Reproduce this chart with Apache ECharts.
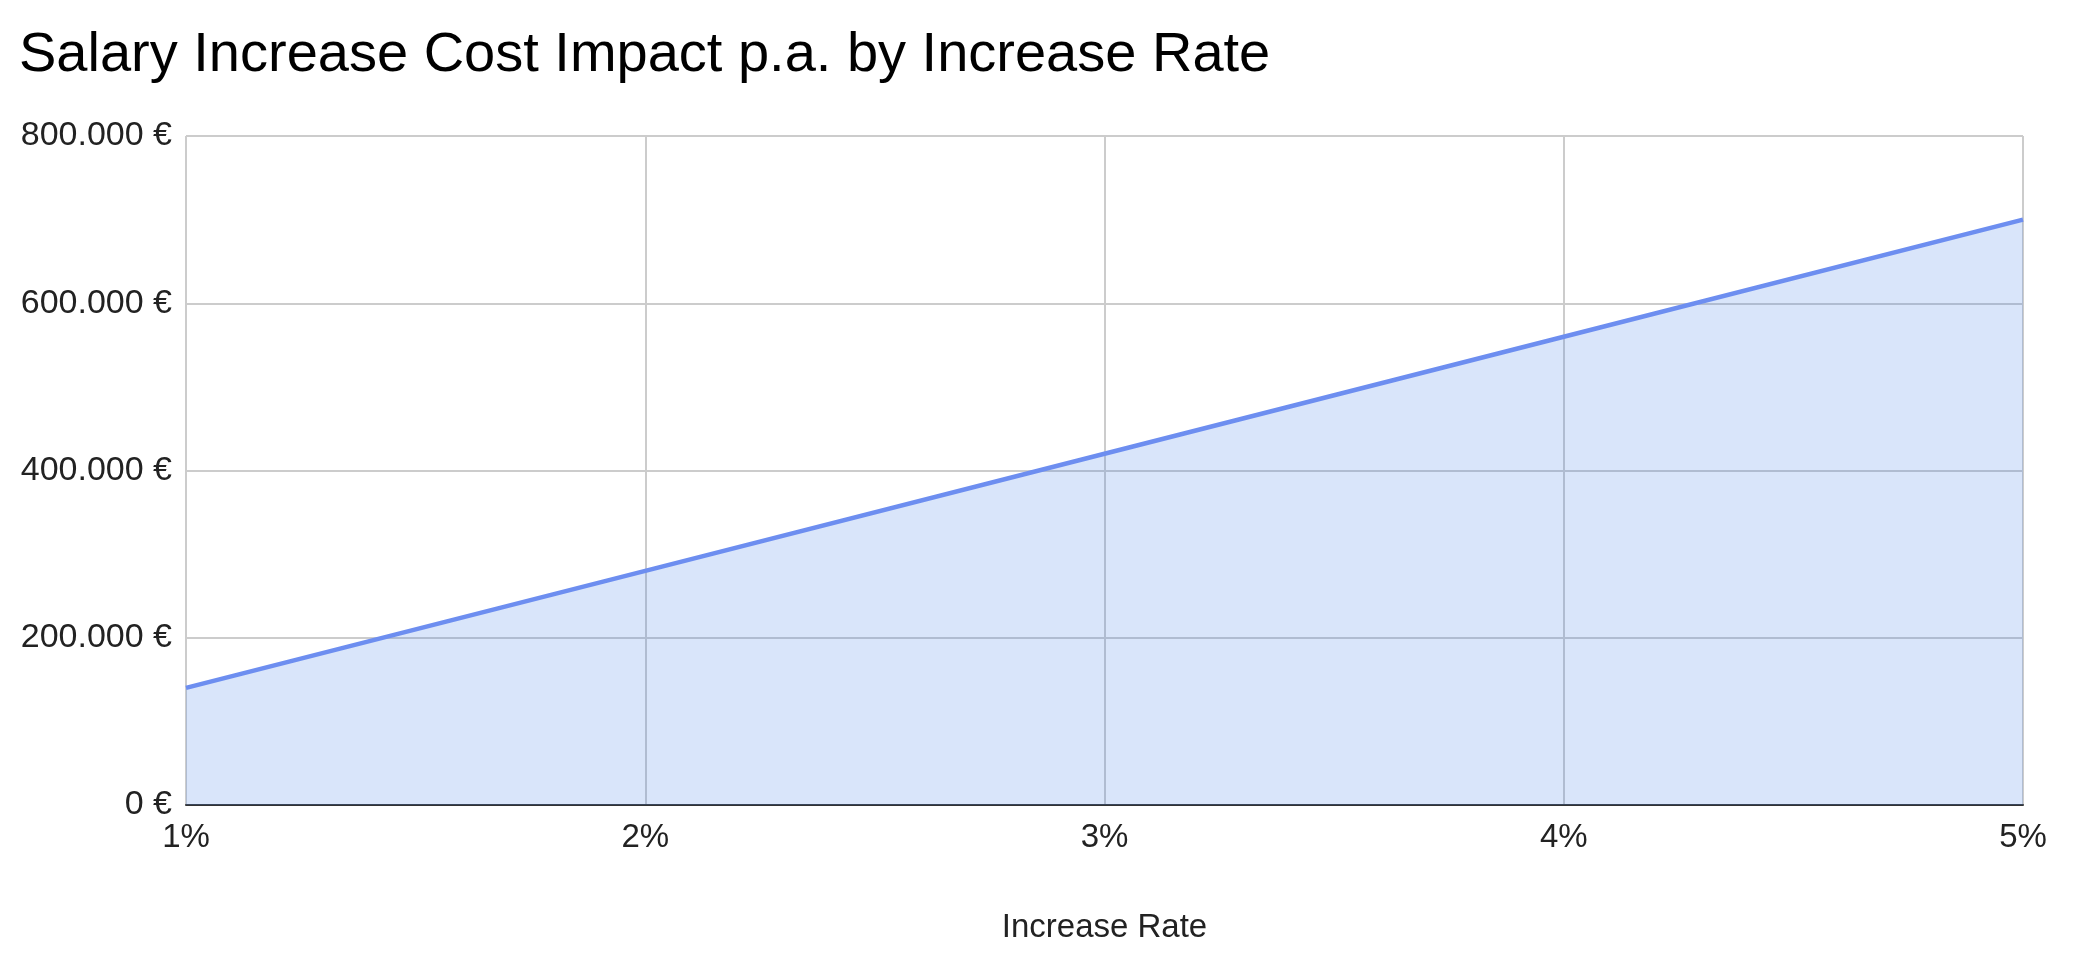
<!DOCTYPE html>
<html>
<head>
<meta charset="utf-8">
<script src="https://cdn.jsdelivr.net/npm/echarts@6/dist/echarts.min.js"></script>
<style>
html,body{margin:0;padding:0;background:#fff;}
#chart{width:2084px;height:960px;}
</style>
</head>
<body>
<div id="chart"></div>
<script>
const categories = ['1%', '2%', '3%', '4%', '5%'];
const costImpact = [140000, 280000, 420000, 560000, 700000];
const yTicks = [0, 200000, 400000, 600000, 800000];

function fmtEuro(v) {
  return String(v).replace(/\B(?=(\d{3})+(?!\d))/g, '.') + ' €';
}

const chart = echarts.init(document.getElementById('chart'), null, {renderer: 'canvas'});
chart.setOption({
  backgroundColor: '#ffffff',
  animation: false,
  title: {
    text: 'Salary Increase Cost Impact p.a. by Increase Rate',
    left: 14,
    top: 23,
    textStyle: {fontFamily: 'Liberation Sans, Arial, sans-serif', fontSize: 56, fontWeight: 'normal', color: '#000'}
  },
  grid: {left: 186, right: 61, top: 136, bottom: 155, containLabel: false},
  xAxis: {
    type: 'category',
    data: categories,
    boundaryGap: false,
    name: 'Increase Rate',
    nameLocation: 'middle',
    nameGap: 106,
    nameTextStyle: {fontFamily: 'Liberation Sans, Arial, sans-serif', fontSize: 33, color: '#222'},
    axisLine: {show: true, lineStyle: {color: '#333', width: 2}},
    axisTick: {show: false},
    axisLabel: {fontFamily: 'Liberation Sans, Arial, sans-serif', fontSize: 33, color: '#222', margin: 16},
    splitLine: {show: true, lineStyle: {color: '#cccccc', width: 2}}
  },
  yAxis: {
    type: 'value',
    min: yTicks[0],
    max: yTicks[yTicks.length - 1],
    interval: yTicks[1] - yTicks[0],
    axisLine: {show: false},
    axisTick: {show: false},
    axisLabel: {fontFamily: 'Liberation Sans, Arial, sans-serif', fontSize: 34, color: '#222', margin: 14, formatter: fmtEuro},
    splitLine: {show: true, lineStyle: {color: '#cccccc', width: 2}}
  },
  series: [{
    type: 'line',
    data: costImpact,
    symbol: 'none',
    lineStyle: {color: '#6d8ef0', width: 4.5},
    areaStyle: {color: 'rgba(74,134,232,0.3)'},
    z: 3
  }]
});
</script>
</body>
</html>
